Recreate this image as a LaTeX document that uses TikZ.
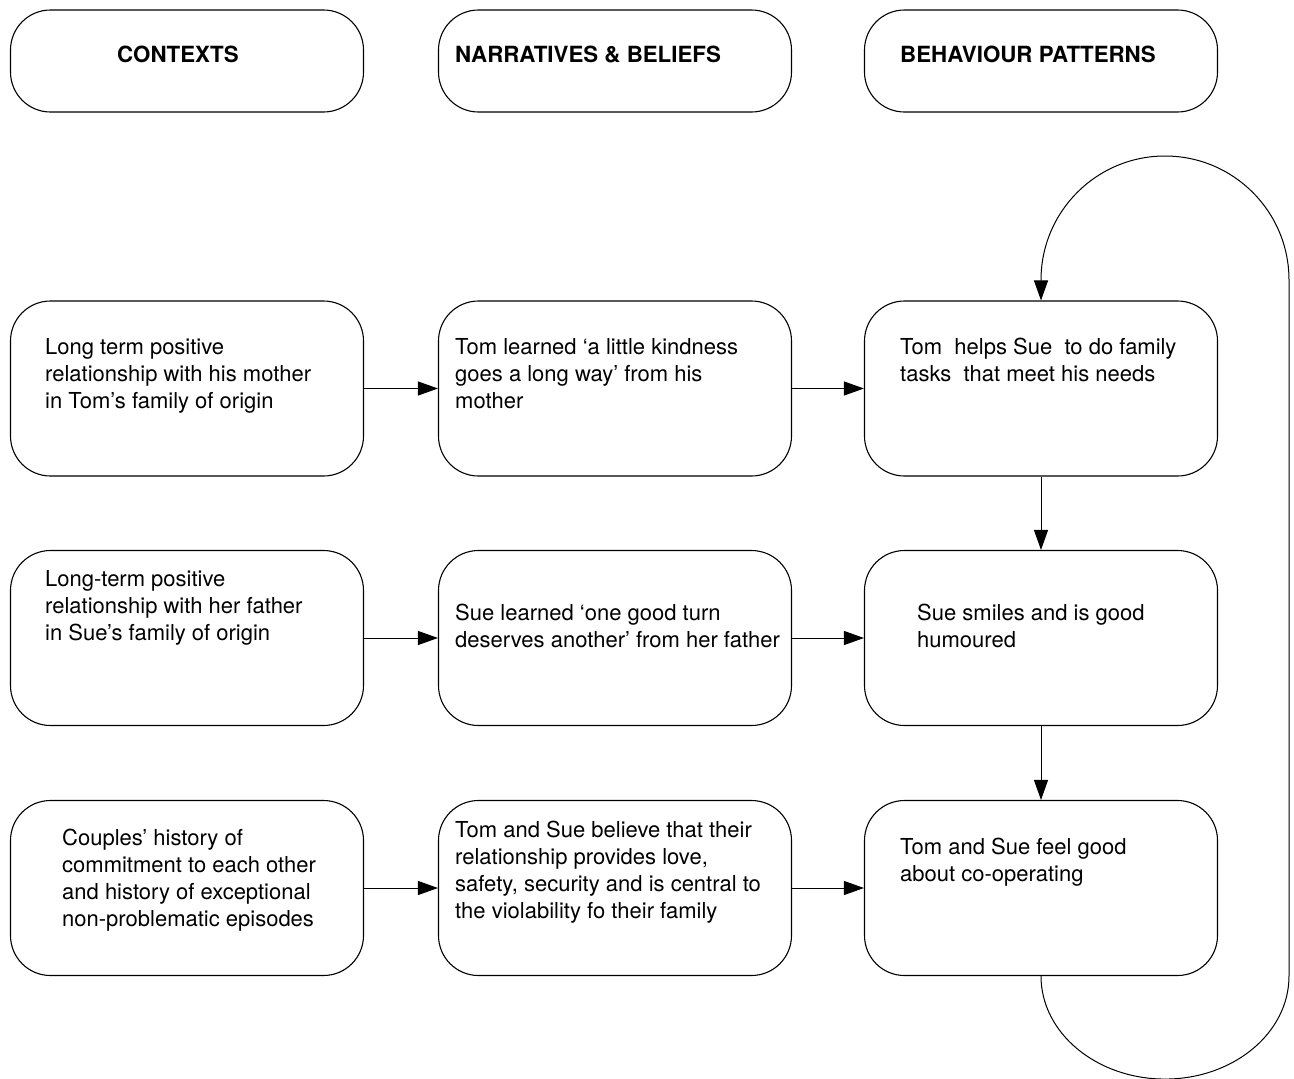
\documentclass[tikz,border=0pt]{standalone}
\usepackage{fontspec}
\setmainfont{TeX Gyre Heros}
\usetikzlibrary{arrows.meta}
\newcommand\mlines[1]{\vtop{\halign{##\hfil\cr#1\crcr}}}
\begin{document}
\begin{tikzpicture}[x=1pt,y=1pt,
  box/.style={draw,line width=1.1pt,rounded corners=40pt,minimum width=353pt,inner sep=0pt,fill=white},
  hbox/.style={box,minimum height=102pt},
  rbox/.style={box,minimum height=175pt},
  txt/.style={anchor=base west,inner sep=0pt,font=\fontsize{22}{27}\selectfont},
  hdr/.style={anchor=base west,inner sep=0pt,font=\fontsize{22.3}{27}\selectfont\bfseries},
  arr/.style={line width=1pt,-{Triangle[length=20pt,width=14pt]}}]
\useasboundingbox (0,0) rectangle (1294,-1079);
% header boxes
\node[hbox] (h1) at (187,-61) {};
\node[hbox] (h2) at (615,-61) {};
\node[hbox] (h3) at (1041,-61) {};
% row boxes
\node[rbox] (a1) at (187,-388.5) {};
\node[rbox] (b1) at (615,-388.5) {};
\node[rbox] (c1) at (1041,-388.5) {};
\node[rbox] (a2) at (187,-638) {};
\node[rbox] (b2) at (615,-638) {};
\node[rbox] (c2) at (1041,-638) {};
\node[rbox] (a3) at (187,-888) {};
\node[rbox] (b3) at (615,-888) {};
\node[rbox] (c3) at (1041,-888) {};
% texts
\node[hdr] (th1) at (117,-62) {CONTEXTS};
\node[hdr] (th2) at (455,-62) {NARRATIVES \& BELIEFS};
\node[hdr] (th3) at (900,-62) {BEHAVIOUR PATTERNS};
\node[txt] (ta1) at (45,-354) {\mlines{Long term positive\cr relationship with his mother\cr in Tom’s family of origin}};
\node[txt] (tb1) at (455,-354) {\mlines{Tom learned ‘a little kindness\cr goes a long way’ from his\cr mother}};
\node[txt] (tc1) at (900,-354) {\mlines{Tom\ \ helps Sue\ \ to do family\cr tasks\ \ that meet his needs}};
\node[txt] (ta2) at (45,-586) {\mlines{Long-term positive\cr relationship with her father\cr in Sue’s family of origin}};
\node[txt] (tb2) at (455,-620) {\mlines{Sue learned ‘one good turn\cr deserves another’ from her father}};
\node[txt] (tc2) at (917,-620) {\mlines{Sue smiles and is good\cr humoured}};
\node[txt] (ta3) at (62,-845) {\mlines{Couples’ history of\cr commitment to each other\cr and history of exceptional\cr non-problematic episodes}};
\node[txt] (tb3) at (455,-837) {\mlines{Tom and Sue believe that their\cr relationship provides love,\cr safety, security and is central to\cr the violability fo their family}};
\node[txt] (tc3) at (900,-854) {\mlines{Tom and Sue feel good\cr about co-operating}};
% connectors
\draw[arr] (a1) -- (b1);
\draw[arr] (b1) -- (c1);
\draw[arr] (a2) -- (b2);
\draw[arr] (b2) -- (c2);
\draw[arr] (a3) -- (b3);
\draw[arr] (b3) -- (c3);
\draw[arr] (c1) -- (c2);
\draw[arr] (c2) -- (c3);
\coordinate (loopR) at (1289,-280);
\draw[arr] (c3.south) arc[start angle=180,end angle=360,x radius=124,y radius=103] -- (loopR) arc[start angle=0,end angle=180,radius=124] -- (c1.north);
\end{tikzpicture}
\end{document}
